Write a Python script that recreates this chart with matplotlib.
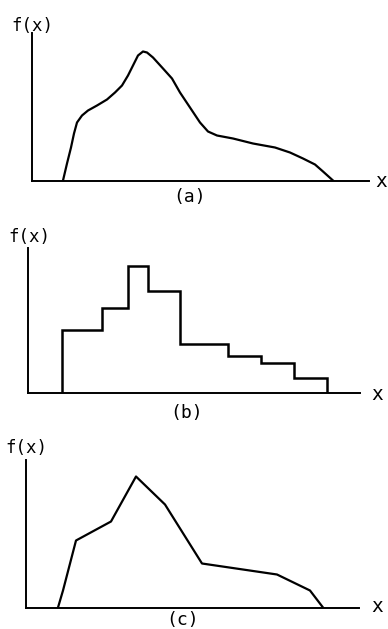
import matplotlib.pyplot as plt

# panel (a): smooth density (pixel-like units)
xa = [31, 35, 39, 42, 45, 50, 56, 65, 75, 83, 90, 96, 101, 106, 111, 115,
      121, 131, 140, 148, 158, 168, 176, 185, 201, 221, 243, 258, 271, 283, 291, 301]
ya = [0, 17, 33, 47, 58, 65, 70, 75, 81, 88, 95, 105, 115, 125, 129, 128,
      123, 112, 102, 88, 73, 58, 49, 45, 42, 37, 33, 28, 22, 16, 9, 0]

# panel (b): histogram
edges_b = [34, 74, 100, 120, 152, 200, 233, 266, 299]
heights_b = [63, 85, 127, 102, 49, 37, 30, 15]

# panel (c): polygon
xc = [32, 37, 50, 85, 110, 139, 176, 251, 284, 297]
yc = [0, 17, 67, 86, 131, 103, 44, 33, 17, 0]

W, H = 388, 629
fig = plt.figure(figsize=(W / 100, H / 100), dpi=100)
mono = 'DejaVu Sans Mono'


def make_axes(left, bottom, right, top):
    ax = fig.add_axes([left / W, 1 - bottom / H, (right - left) / W, (bottom - top) / H])
    ax.set_xlim(0, right - left)
    ax.set_ylim(0, bottom - top)
    for s in ['top', 'right']:
        ax.spines[s].set_visible(False)
    for s in ['left', 'bottom']:
        ax.spines[s].set_linewidth(1.4)
    ax.set_xticks([])
    ax.set_yticks([])
    ax.patch.set_alpha(0)
    return ax


def label(x, y, s, size=12.5):
    fig.text(x / W, 1 - y / H, s, ha='center', va='center', family=mono,
             fontsize=size, fontweight='medium')


ax1 = make_axes(32, 180.5, 369, 33)
ax1.plot(xa, ya, color='black', lw=1.6, solid_joinstyle='round')

ax2 = make_axes(28, 393, 360, 248)
ax2.stairs(heights_b, edges_b, baseline=0, color='black', lw=1.8)

ax3 = make_axes(26, 607.5, 359, 460)
ax3.plot(xc, yc, color='black', lw=1.6)

label(32, 26, 'f(x)')
label(29, 237, 'f(x)')
label(26, 448, 'f(x)')
label(381, 181, 'x', 14)
label(377, 394, 'x', 14)
label(377, 607, 'x', 14)
label(190, 197, '(a)', 13)
label(187, 413, '(b)', 13)
label(183, 620, '(c)', 13)

fig.savefig('out.png', dpi=100)
